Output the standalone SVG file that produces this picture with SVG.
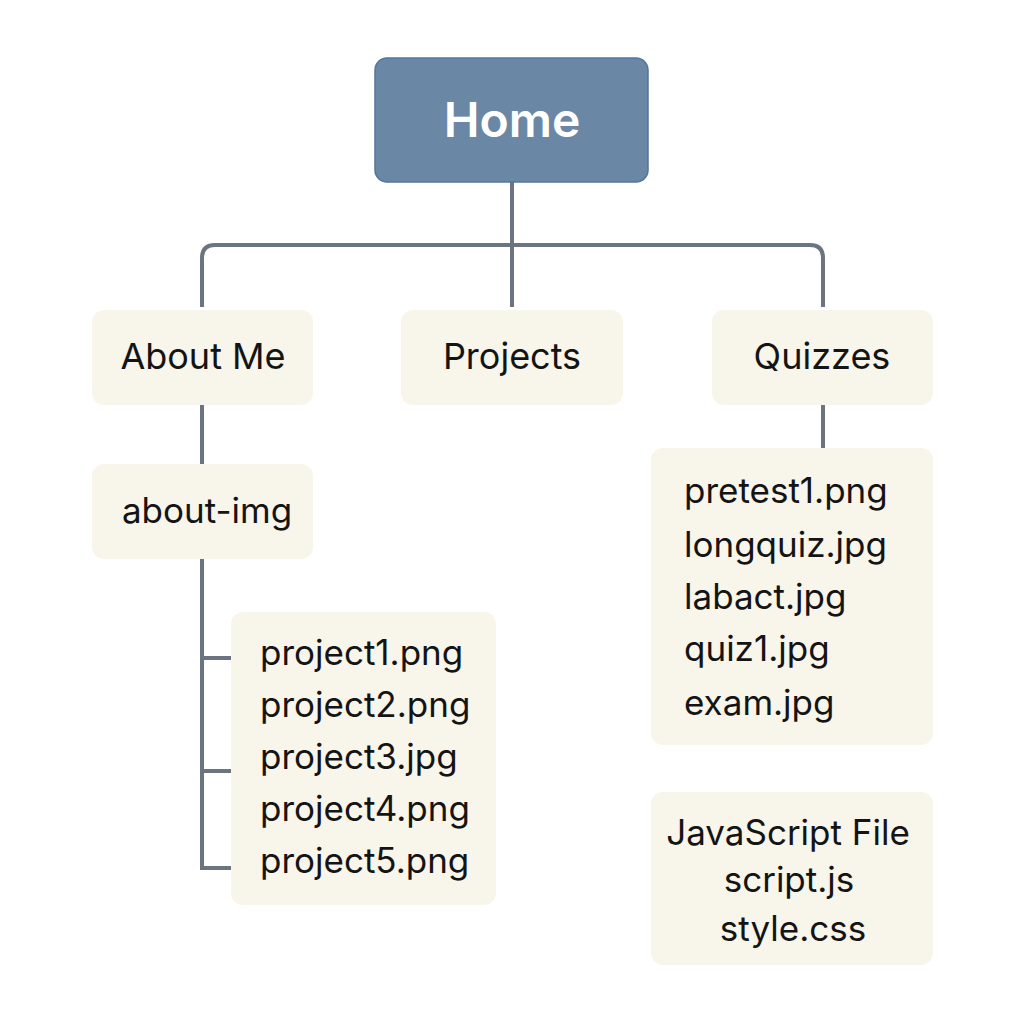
<svg xmlns="http://www.w3.org/2000/svg" width="1024" height="1024" viewBox="0 0 1024 1024">
<style>
.box{fill:#f8f5ea;}
.home{fill:#6a88a6;stroke:#55769a;stroke-width:1.5;}
.t{font-family:Inter,"Liberation Sans",Arial,sans-serif;fill:#141414;font-size:35px;}
.n{font-size:36px;}
.c{text-anchor:middle;}
.ht{font-family:Inter,"Liberation Sans",sans-serif;fill:#ffffff;font-size:48px;font-weight:600;text-anchor:middle;}
.con{fill:none;stroke:#6b7480;stroke-width:4;}
</style>
<rect width="1024" height="1024" fill="#ffffff"/>
<g id="connectors">
<path class="con" d="M512 182 V307"/>
<path class="con" d="M202 307 V258 Q202 245 215 245 H810 Q823 245 823 258 V307"/>
<path class="con" d="M202 405 V464"/>
<path class="con" d="M823 405 V448"/>
<path class="con" d="M202 559 V868 H231 M202 658 H231 M202 771 H231"/>
</g>
<g id="home">
<rect class="home" x="375" y="58" width="273" height="124" rx="12"/>
<text class="ht" x="512" y="137">Home</text>
</g>
<g id="about-me">
<rect class="box" x="92" y="310" width="221" height="95" rx="12"/>
<text class="t n c" x="203" y="369">About Me</text>
</g>
<g id="projects">
<rect class="box" x="401" y="310" width="222" height="95" rx="12"/>
<text class="t n c" x="512" y="369">Projects</text>
</g>
<g id="quizzes">
<rect class="box" x="712" y="310" width="221" height="95" rx="12"/>
<text class="t n c" x="822" y="369">Quizzes</text>
</g>
<g id="about-img">
<rect class="box" x="92" y="464" width="221" height="95" rx="12"/>
<text class="t c" x="207" y="523">about-img</text>
</g>
<g id="project-files">
<rect class="box" x="231" y="612" width="265" height="293" rx="12"/>
<text class="t" x="260" y="665">project1.png</text>
<text class="t" x="260" y="717">project2.png</text>
<text class="t" x="260" y="769">project3.jpg</text>
<text class="t" x="260" y="821">project4.png</text>
<text class="t" x="260" y="873">project5.png</text>
</g>
<g id="quiz-files">
<rect class="box" x="651" y="448" width="282" height="297" rx="12"/>
<text class="t" x="684" y="503">pretest1.png</text>
<text class="t" x="684" y="557">longquiz.jpg</text>
<text class="t" x="684" y="609">labact.jpg</text>
<text class="t" x="684" y="661">quiz1.jpg</text>
<text class="t" x="684" y="715">exam.jpg</text>
</g>
<g id="js-file">
<rect class="box" x="651" y="792" width="282" height="173" rx="12"/>
<text class="t c" x="788" y="845">JavaScript File</text>
<text class="t c" x="789" y="892">script.js</text>
<text class="t c" x="793" y="941">style.css</text>
</g>
</svg>
